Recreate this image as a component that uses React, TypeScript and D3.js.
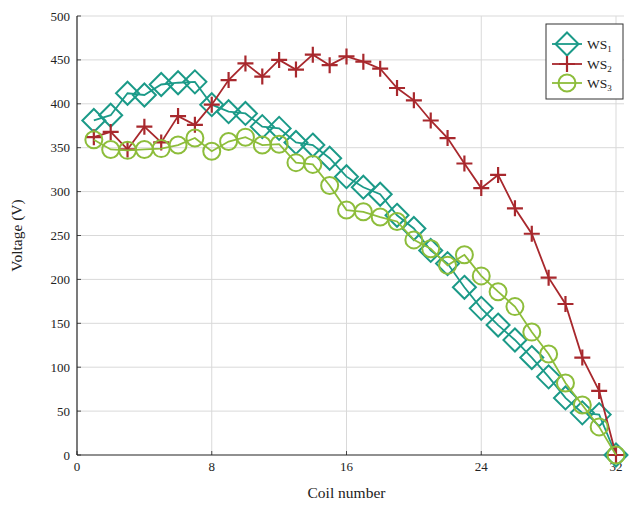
import React, { useEffect, useRef } from "react";
import * as d3 from "d3";

const coils = d3.range(1, 33);
const ws1 = [381, 387, 412, 410, 422, 424, 425, 399, 391, 389, 374, 372, 356, 353, 338, 317, 305, 297, 273, 258, 233, 218, 191, 167, 148, 131, 111, 89, 65, 48, 46, 0];
const ws2 = [362, 368, 348, 374, 356, 386, 376, 399, 427, 446, 431, 450, 439, 456, 444, 454, 448, 440, 418, 404, 381, 361, 332, 304, 319, 281, 252, 202, 172, 111, 73, 0];
const ws3 = [359, 348, 347, 348, 349, 353, 361, 346, 357, 362, 353, 354, 333, 331, 307, 279, 277, 271, 266, 245, 235, 216, 228, 204, 186, 169, 140, 115, 82, 57, 32, 0];
const xTicks = [0, 8, 16, 24, 32];
const yTicks = [0, 50, 100, 150, 200, 250, 300, 350, 400, 450, 500];
const seriesNames = ["1", "2", "3"];

const colors = ["#1b9a88", "#a8282d", "#8dbd3b"];
const font = "'Liberation Serif', 'DejaVu Serif', serif";

export default function App() {
  const ref = useRef<SVGSVGElement>(null);

  useEffect(() => {
    const svg = d3.select(ref.current);
    svg.selectAll("*").remove();

    const x = d3.scaleLinear().domain([0, 32]).range([77, 616]);
    const y = d3.scaleLinear().domain([0, 500]).range([455, 16]);

    // grid
    const grid = svg.append("g").attr("stroke", "#d9d9d9").attr("stroke-width", 1);
    xTicks.filter((t) => t > 0).forEach((t) => {
      grid.append("line").attr("x1", x(t)).attr("x2", x(t)).attr("y1", y(0)).attr("y2", y(500));
    });
    yTicks.filter((t) => t > 0).forEach((t) => {
      grid.append("line").attr("x1", x(0)).attr("x2", 624).attr("y1", y(t)).attr("y2", y(t));
    });

    // axes
    const ax = svg.append("g").attr("stroke", "#222").attr("stroke-width", 1.2);
    ax.append("line").attr("x1", x(0)).attr("x2", x(0)).attr("y1", y(0)).attr("y2", y(500));
    ax.append("line").attr("x1", x(0)).attr("x2", 626).attr("y1", y(0)).attr("y2", y(0));
    yTicks.forEach((t) => {
      ax.append("line").attr("x1", x(0)).attr("x2", x(0) + 4).attr("y1", y(t)).attr("y2", y(t)).attr("stroke-width", 0.8);
    });
    xTicks.forEach((t) => {
      ax.append("line").attr("x1", x(t)).attr("x2", x(t)).attr("y1", y(0)).attr("y2", y(0) - 4).attr("stroke-width", 0.8);
    });

    const labels = svg.append("g").attr("font-family", font).attr("font-size", 13).attr("fill", "#222");
    yTicks.forEach((t) => {
      labels.append("text").attr("x", x(0) - 7).attr("y", y(t)).attr("dy", "0.35em").attr("text-anchor", "end").text(t);
    });
    xTicks.forEach((t) => {
      labels.append("text").attr("x", x(t)).attr("y", y(0) + 16).attr("text-anchor", "middle").text(t);
    });
    labels.append("text").attr("x", x(16)).attr("y", 498).attr("text-anchor", "middle").attr("font-size", 15.5).text("Coil number");
    labels.append("text").attr("transform", `translate(22, ${y(250)}) rotate(-90)`).attr("text-anchor", "middle").attr("font-size", 15.5).text("Voltage (V)");

    const diamond = (g: any, cx: number, cy: number, c: string) =>
      g.append("path").attr("d", `M${cx},${cy - 11.5}L${cx + 11.5},${cy}L${cx},${cy + 11.5}L${cx - 11.5},${cy}Z`)
        .attr("fill", "none").attr("stroke", c).attr("stroke-width", 2);
    const plus = (g: any, cx: number, cy: number, c: string) =>
      g.append("path").attr("d", `M${cx - 8},${cy}H${cx + 8}M${cx},${cy - 8}V${cy + 8}`)
        .attr("fill", "none").attr("stroke", c).attr("stroke-width", 2.2);
    const circle = (g: any, cx: number, cy: number, c: string) =>
      g.append("circle").attr("cx", cx).attr("cy", cy).attr("r", 8.5)
        .attr("fill", "none").attr("stroke", c).attr("stroke-width", 2);
    const markers = [diamond, plus, circle];

    const line = d3.line<number>().x((_, i) => x(coils[i])).y((d) => y(d));
    [ws1, ws2, ws3].forEach((vals, k) => {
      const g = svg.append("g");
      g.append("path").attr("d", line(vals)).attr("fill", "none").attr("stroke", colors[k]).attr("stroke-width", 1.8);
      vals.forEach((v, i) => markers[k](g, x(coils[i]), y(v), colors[k]));
    });

    // legend
    const lg = svg.append("g");
    lg.append("rect").attr("x", 546).attr("y", 24).attr("width", 77).attr("height", 75)
      .attr("fill", "white").attr("stroke", "#333").attr("stroke-width", 1);
    seriesNames.forEach((n, k) => {
      const cy = [44, 64, 83][k];
      lg.append("line").attr("x1", 552).attr("x2", 582).attr("y1", cy).attr("y2", cy).attr("stroke", colors[k]).attr("stroke-width", 1.8);
      markers[k](lg, 567, cy, colors[k]);
      const t = lg.append("text").attr("x", 587).attr("y", cy + 4.5).attr("font-family", font).attr("font-size", 13.5).attr("fill", "#222");
      t.append("tspan").text("WS");
      t.append("tspan").attr("font-size", 9).attr("dy", 3).text(n);
    });
  }, []);

  return (
    <svg ref={ref} width={630} height={505} style={{ position: "absolute", left: 0, top: 0, background: "white" }} />
  );
}
